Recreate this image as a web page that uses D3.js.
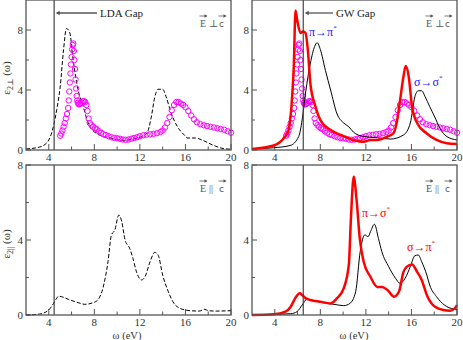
<!DOCTYPE html>
<html lang="en">
<head>
<meta charset="UTF-8">
<title>Dielectric function</title>
<script src="https://d3js.org/d3.v7.min.js"></script>
<style>
  body { margin: 0; background: #fff; }
  .tick-label { font-size: 11px; fill: #333; }
</style>
</head>
<body>
<svg width="463" height="340" font-family="'Liberation Serif', 'Times New Roman', 'DejaVu Serif', serif"></svg>
<script>
// --- data (eV, epsilon_2) ---
const xTicks = [4, 8, 12, 16, 20];
const xMinor = [6, 10, 14, 18];

// experiment (magenta circles), used in both top panels
const expW = [5.0, 5.1, 5.2, 5.3, 5.4, 5.5, 5.6, 5.7, 5.75, 5.8, 5.85, 5.9, 5.95, 6.0, 6.05, 6.1, 6.15, 6.2, 6.25, 6.3,
  6.35, 6.4, 6.45, 6.5, 6.55, 6.62, 6.7, 6.8, 6.9, 7.0, 7.1, 7.2, 7.3, 7.4, 7.5, 7.6, 7.75, 7.9, 8.05, 8.2,
  8.4, 8.6, 8.8, 9.0, 9.25, 9.5, 9.75, 10.0, 10.25, 10.5, 10.75, 11.0, 11.25, 11.5, 11.75, 12.0, 12.3, 12.6, 12.9, 13.2,
  13.5, 13.8, 14.0, 14.2, 14.4, 14.6, 14.8, 15.0, 15.2, 15.4, 15.6, 15.8, 16.0, 16.25, 16.5, 16.75, 17.0, 17.3, 17.6, 17.9,
  18.2, 18.5, 18.8, 19.1, 19.4, 19.7, 20.0];
const expE = [0.95, 1.1, 1.3, 1.55, 1.8, 2.1, 2.4, 2.8, 3.3, 3.9, 4.5, 5.1, 5.7, 6.2, 6.7, 7.0, 7.1, 6.6, 6.0, 5.4,
  4.7, 4.1, 3.6, 3.3, 3.15, 3.05, 3.05, 3.1, 3.15, 3.25, 3.25, 3.2, 3.0, 2.6, 2.1, 1.8, 1.65, 1.55, 1.45, 1.4,
  1.25, 1.15, 1.05, 1.0, 0.92, 0.85, 0.8, 0.78, 0.75, 0.7, 0.68, 0.7, 0.75, 0.8, 0.85, 0.92, 0.98, 1.02, 1.05, 1.08,
  1.12, 1.2, 1.3, 1.5, 1.8, 2.2, 2.65, 3.0, 3.2, 3.2, 3.1, 3.0, 2.85, 2.6, 2.3, 2.05, 1.85, 1.72, 1.65, 1.6,
  1.55, 1.5, 1.45, 1.4, 1.35, 1.25, 1.15];

// LDA, E perp c (dashed)
const ldaPerpW = [2.0, 3.2, 3.9, 4.4, 4.7, 5.0, 5.3, 5.55, 5.85, 6.14, 6.58, 7.02, 7.46, 8.2, 9.4, 10.5, 11.7, 12.6, 13.0, 13.3,
  13.6, 14.0, 14.3, 14.75, 15.3, 15.9, 16.2, 16.9, 17.5, 18.4, 19.3, 20.0];
const ldaPerpE = [0.07, 0.2, 0.55, 1.55, 2.7, 4.2, 6.7, 8.1, 7.8, 6.0, 4.0, 2.9, 1.8, 1.1, 0.8, 0.65, 0.78, 1.1, 2.2, 3.5,
  4.05, 4.05, 3.55, 2.45, 1.55, 1.0, 0.8, 0.8, 0.65, 0.33, 0.1, 0.05];

// GW (thin black) and GW + excitons (thick red), E perp c
const gwPerpW = [2.0, 3.9, 5.35, 6.1, 6.4, 6.7, 7.13, 7.5, 7.72, 8.0, 8.45, 8.9, 9.47, 10.05, 10.5, 10.9, 11.8, 13.0, 14.15, 15.3,
  15.9, 16.3, 16.6, 16.9, 17.2, 17.6, 18.05, 18.5, 19.1, 20.0];
const gwPerpE = [0.07, 0.15, 0.3, 0.9, 2.0, 3.8, 5.8, 6.9, 7.15, 6.7, 5.3, 4.0, 2.4, 1.8, 1.55, 1.2, 0.9, 0.82, 0.73, 1.0,
  1.8, 3.55, 3.95, 3.95, 3.55, 2.9, 2.2, 1.45, 0.9, 0.67];
const bsePerpW = [2.0, 3.9, 4.8, 5.2, 5.5, 5.67, 5.82, 5.96, 6.26, 6.49, 6.7, 6.9, 7.13, 7.57, 8.0, 8.9, 9.8, 10.9, 11.8, 12.4,
  13.0, 13.9, 14.4, 14.7, 15.0, 15.3, 15.5, 15.76, 16.05, 16.5, 17.35, 18.2, 19.1, 20.0];
const bsePerpE = [0.07, 0.3, 0.8, 1.3, 3.3, 5.6, 9.3, 8.7, 7.8, 7.9, 7.8, 6.7, 4.4, 2.9, 2.0, 1.33, 1.0, 0.67, 0.55, 0.67,
  0.67, 0.9, 1.1, 1.8, 3.3, 4.9, 5.6, 4.9, 2.9, 1.8, 1.1, 0.67, 0.45, 0.4];

// LDA, E parallel c (dashed)
const ldaParW = [2.0, 3.2, 4.0, 4.4, 4.7, 4.85, 5.1, 5.7, 6.58, 7.16, 7.9, 8.3, 8.75, 9.2, 9.5, 9.8, 10.15, 10.4, 10.7, 11.1,
  11.4, 11.7, 12.15, 12.45, 12.9, 13.3, 13.6, 14.0, 14.5, 14.9, 15.5, 16.4, 17.2, 17.7, 18.0, 18.7, 20.0];
const ldaParE = [0.0, 0.05, 0.27, 0.6, 0.9, 1.0, 0.98, 0.84, 0.66, 0.57, 0.66, 0.8, 1.42, 2.85, 4.27, 4.53, 5.33, 5.0, 4.0, 3.56,
  3.0, 2.3, 1.87, 2.04, 2.85, 3.34, 3.2, 2.13, 1.24, 0.71, 0.36, 0.23, 0.21, 0.3, 0.23, 0.21, 0.23];

// GW (thin black) and GW + excitons (thick red), E parallel c
const gwParW = [2.0, 5.4, 5.96, 6.4, 6.84, 7.27, 8.0, 9.2, 10.05, 10.6, 11.1, 11.5, 11.9, 12.2, 12.4, 12.75, 13.1, 13.4, 14.0, 14.6,
  15.0, 15.45, 15.9, 16.3, 16.6, 16.9, 17.35, 17.6, 18.2, 18.9, 19.7, 20.0];
const gwParE = [0.0, 0.07, 0.18, 0.53, 0.85, 0.8, 0.68, 0.57, 0.5, 0.62, 1.24, 3.38, 4.27, 4.18, 4.44, 4.84, 4.09, 3.38, 2.58, 1.96,
  1.69, 1.96, 2.58, 3.16, 3.2, 2.84, 2.13, 1.6, 0.98, 0.53, 0.32, 0.3];
const bseParW = [2.0, 3.9, 4.94, 5.4, 5.8, 6.2, 6.4, 6.7, 7.13, 8.0, 8.9, 9.47, 10.05, 10.5, 10.7, 10.93, 11.17, 11.46, 11.8, 12.4,
  13.0, 13.4, 13.9, 14.45, 14.9, 15.3, 15.6, 16.05, 16.5, 16.9, 17.35, 17.9, 18.8, 19.4, 19.8, 20.0];
const bseParE = [0.0, 0.04, 0.18, 0.44, 0.9, 1.16, 1.07, 0.9, 0.8, 0.71, 0.62, 0.9, 1.42, 2.67, 5.33, 7.38, 6.22, 4.1, 2.85, 2.04,
  1.5, 1.5, 1.33, 0.98, 1.24, 2.3, 2.58, 2.7, 2.3, 1.87, 1.07, 0.53, 0.27, 0.23, 0.36, 0.53];

const ldaGap = 4.47;
const gwGap = 6.5;

const zip = (w, e) => w.map((v, i) => [v, e[i]]);

const svg = d3.select("svg");
const frameColor = "#555";

// panel layout
const cols = [[26, 231], [252, 457]];
const rows = [{ y: [150, 0], max: 10 }, { y: [315, 165], max: 8 }];

function panel(col, row) {
  const x = d3.scaleLinear().domain([2, 20]).range(cols[col]);
  const y = d3.scaleLinear().domain([0, rows[row].max]).range(rows[row].y);
  const g = svg.append("g");

  // ticks (inside)
  xTicks.forEach(t => g.append("line").attr("x1", x(t)).attr("x2", x(t))
    .attr("y1", y(0)).attr("y2", y(0) - 6).attr("stroke", frameColor));
  xMinor.forEach(t => g.append("line").attr("x1", x(t)).attr("x2", x(t))
    .attr("y1", y(0)).attr("y2", y(0) - 3.5).attr("stroke", frameColor));
  [0, 4, 8].forEach(t => g.append("line").attr("x1", x(2)).attr("x2", x(2) + 5)
    .attr("y1", y(t)).attr("y2", y(t)).attr("stroke", frameColor));
  [2, 6].forEach(t => g.append("line").attr("x1", x(2)).attr("x2", x(2) + 3)
    .attr("y1", y(t)).attr("y2", y(t)).attr("stroke", frameColor));

  // tick labels
  g.selectAll(".xl").data(xTicks).enter().append("text")
    .attr("class", "tick-label").attr("text-anchor", "middle")
    .attr("x", d => x(d)).attr("y", y(0) + 11).text(d => d);
  g.selectAll(".yl").data([0, 4, 8]).enter().append("text")
    .attr("class", "tick-label").attr("text-anchor", "end")
    .attr("x", x(2) - 3).attr("y", d => y(d) + 4).text(d => d);

  return { g, x, y };
}

function drawLine(p, w, e, color, width, dash) {
  p.g.append("path")
    .datum(zip(w, e))
    .attr("fill", "none")
    .attr("stroke", color)
    .attr("stroke-width", width)
    .attr("stroke-linejoin", "round")
    .attr("stroke-dasharray", dash || null)
    .attr("d", d3.line().x(d => p.x(d[0])).y(d => p.y(d[1])).curve(d3.curveMonotoneX));
}

function drawExp(p) {
  p.g.selectAll(".exp").data(zip(expW, expE)).enter().append("circle")
    .attr("cx", d => p.x(d[0])).attr("cy", d => p.y(d[1])).attr("r", 2.7)
    .attr("fill", "none").attr("stroke", "#ff00ff").attr("stroke-width", 1);
}

function gapLine(p, w) {
  p.g.append("line").attr("x1", p.x(w)).attr("x2", p.x(w))
    .attr("y1", p.y(0)).attr("y2", p.y(p.y.domain()[1]))
    .attr("stroke", "#444").attr("stroke-width", 1.2);
}

function frame(p) {
  const [x0, x1] = p.x.range();
  const [y0, y1] = p.y.range();
  p.g.append("rect").attr("x", x0).attr("y", y1).attr("width", x1 - x0).attr("height", y0 - y1)
    .attr("fill", "none").attr("stroke", frameColor).attr("stroke-width", 1.3);
}

function polLabel(p, par) {
  const x0 = p.x.range()[1] - 31;
  const yb = p.y.range()[1] + 27;
  const t = p.g.append("g").attr("fill", "#555").style("font-size", "10px");
  t.append("text").attr("x", x0).attr("y", yb).text("E");
  t.append("text").attr("x", x0 + 9).attr("y", yb).text(par ? "||" : "\u22a5");
  t.append("text").attr("x", x0 + 19).attr("y", yb).attr("font-family", "'DejaVu Sans', sans-serif").style("font-size", "9px").text("c");
  [x0 + 3.5, x0 + 22.5].forEach(ax => {
    t.append("line").attr("x1", ax - 4).attr("x2", ax + 3).attr("y1", yb - 11).attr("y2", yb - 11)
      .attr("stroke", "#555").attr("stroke-width", 0.8);
    t.append("path").attr("d", `M${ax + 4},${yb - 11} l-3,-1.8 l0,3.6 z`).attr("fill", "#555");
  });
}

function gapArrow(p, w, txt, x1) {
  const yy = 13;
  p.g.append("line").attr("x1", x1).attr("x2", p.x(w) + 3).attr("y1", yy).attr("y2", yy)
    .attr("stroke", "#555").attr("stroke-width", 1.3);
  p.g.append("path").attr("d", `M${p.x(w) + 1.5},${yy} l4,-2.2 l0,4.4 z`).attr("fill", "#555");
  p.g.append("text").attr("x", x1 + 3).attr("y", yy + 4).style("font-size", "11px").attr("fill", "#222").text(txt);
}

function transLabel(p, x, y, a, b, color) {
  const t = p.g.append("text").attr("x", x).attr("y", y).attr("fill", color).style("font-size", "12px");
  t.append("tspan").text(a + "\u2192" + b);
  t.append("tspan").attr("dy", -6).style("font-size", "7px").text("*");
}

// top-left
const tl = panel(0, 0);
drawLine(tl, ldaPerpW, ldaPerpE, "#000", 1, "4,2");
drawExp(tl);
gapLine(tl, ldaGap);
gapArrow(tl, ldaGap, "LDA Gap", 97);
polLabel(tl, false);
frame(tl);

// top-right
const tr = panel(1, 0);
drawExp(tr);
drawLine(tr, gwPerpW, gwPerpE, "#000", 1);
drawLine(tr, bsePerpW, bsePerpE, "#ff0000", 2.5);
gapLine(tr, gwGap);
gapArrow(tr, gwGap, "GW Gap", 333);
polLabel(tr, false);
transLabel(tr, 309, 36, "\u03c0", "\u03c0", "#2020ff");
transLabel(tr, 414, 86, "\u03c3", "\u03c3", "#2020ff");
frame(tr);

// bottom-left
const bl = panel(0, 1);
drawLine(bl, ldaParW, ldaParE, "#000", 1, "4,2");
gapLine(bl, ldaGap);
polLabel(bl, true);
frame(bl);

// bottom-right
const br = panel(1, 1);
drawLine(br, gwParW, gwParE, "#000", 1);
drawLine(br, bseParW, bseParE, "#ff0000", 2.5);
gapLine(br, gwGap);
polLabel(br, true);
transLabel(br, 362, 217, "\u03c0", "\u03c3", "#ff0000");
transLabel(br, 407, 251, "\u03c3", "\u03c0", "#ff0000");
frame(br);

// axis titles
function yTitle(cy, sub) {
  const t = svg.append("text").attr("transform", `translate(10,${cy}) rotate(-90)`)
    .attr("text-anchor", "middle").style("font-size", "11px").attr("fill", "#333");
  t.append("tspan").text("\u03b5");
  t.append("tspan").attr("dy", 3).style("font-size", "8px").text(sub);
  t.append("tspan").attr("dy", -3).text(" (\u03c9)");
}
yTitle(78, "2\u22a5");
yTitle(244, "2||");

[127, 354].forEach(cx => {
  svg.append("text").attr("x", cx).attr("y", 339).attr("text-anchor", "middle")
    .style("font-size", "10.5px").attr("fill", "#333").text("\u03c9 (eV)");
});
</script>
</body>
</html>
